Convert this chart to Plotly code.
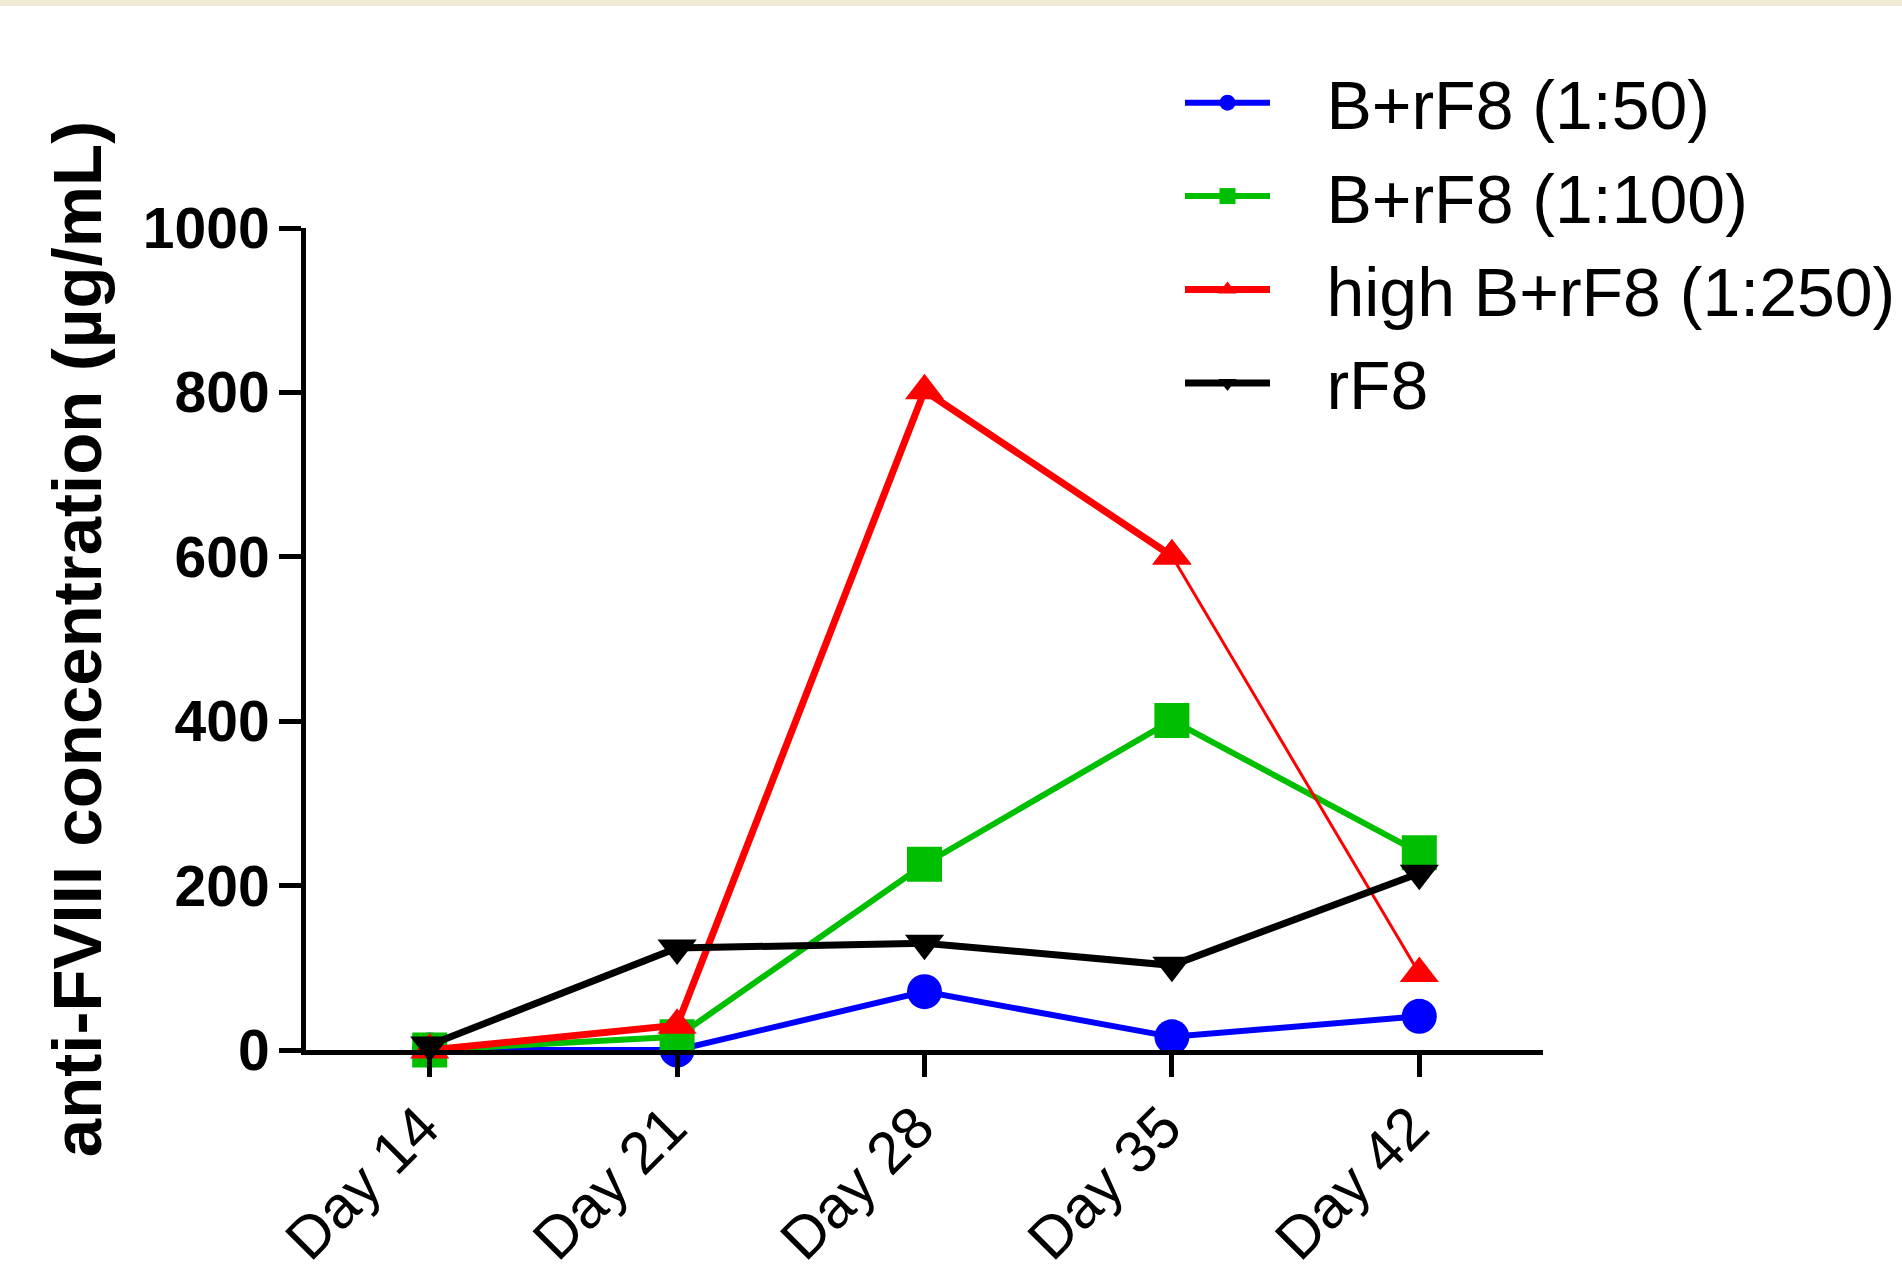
import plotly.graph_objects as go

# ---- data ----
days = ["Day 14", "Day 21", "Day 28", "Day 35", "Day 42"]
y_ticks = [0, 200, 400, 600, 800, 1000]

series_names = ["B+rF8 (1:50)", "B+rF8 (1:100)", "high B+rF8 (1:250)", "rF8"]
b_rf8_1_50 = [0, 0, 71, 16, 41]
b_rf8_1_100 = [0, 16, 226, 401, 240]
high_b_rf8_1_250 = [0, 30, 802, 601, 93]
rf8 = [6, 124, 130, 103, 215]

FONT = "Arial, 'Liberation Sans', sans-serif"
PAD = "\u00a0\u00a0\u2009"  # gap between legend symbol and label


def legend_label(name):
    return PAD + name


fig = go.Figure()

fig.add_trace(go.Scatter(
    x=days, y=b_rf8_1_50, name=legend_label(series_names[0]), mode="lines+markers",
    legendgroup="g1",
    line=dict(color="#0000ff", width=6),
    marker=dict(symbol="circle", size=35, color="#0000ff"),
    cliponaxis=False))

fig.add_trace(go.Scatter(
    x=days, y=b_rf8_1_100, name=legend_label(series_names[1]), mode="lines+markers",
    legendgroup="g2",
    line=dict(color="#00bf00", width=6),
    marker=dict(symbol="square", size=35, color="#00bf00"),
    cliponaxis=False))

# red series: thick up to Day 35, thin last segment
fig.add_trace(go.Scatter(
    x=days[3:], y=high_b_rf8_1_250[3:], name=legend_label(series_names[2]),
    mode="lines+markers", legendgroup="g3",
    line=dict(color="#ff0000", width=3),
    marker=dict(symbol="triangle-up", size=34, color="#ff0000"),
    showlegend=False, cliponaxis=False))
fig.add_trace(go.Scatter(
    x=days[:4], y=high_b_rf8_1_250[:4], name=legend_label(series_names[2]),
    mode="lines+markers", legendgroup="g3",
    line=dict(color="#ff0000", width=7),
    marker=dict(symbol="triangle-up", size=34, color="#ff0000"),
    cliponaxis=False))

fig.add_trace(go.Scatter(
    x=days, y=rf8, name=legend_label(series_names[3]), mode="lines+markers",
    legendgroup="g4",
    line=dict(color="#000000", width=7),
    marker=dict(symbol="triangle-down", size=34, color="#000000"),
    cliponaxis=False))

W, H = 1902, 1279
ml, mr, mt, mb = 306, 359, 228, 229
pw = W - ml - mr
ph = H - mt - mb

fig.update_layout(
    width=W, height=H,
    margin=dict(l=ml, r=mr, t=mt, b=mb, autoexpand=False),
    paper_bgcolor="white", plot_bgcolor="white",
    font=dict(family=FONT, color="black"),
    showlegend=True,
    legend=dict(
        x=(1180 - ml) / pw, y=(H - mb - 52) / ph,
        xanchor="left", yanchor="top",
        font=dict(family=FONT, size=68, color="black"),
        bgcolor="rgba(0,0,0,0)",
        traceorder="grouped", tracegroupgap=2,
        itemwidth=85,
    ),
    xaxis=dict(
        type="category", categoryorder="array", categoryarray=days,
        range=[-0.5, 4.5],
        showline=True, linecolor="black", linewidth=5,
        ticks="outside", ticklen=22, tickwidth=5, tickcolor="black",
        tickangle=-45,
        tickfont=dict(family=FONT, size=59, color="black"),
        ticklabelshift=-8, ticklabelstandoff=-8,
        showgrid=False, zeroline=False,
    ),
    yaxis=dict(
        range=[0, 1000], tickvals=y_ticks,
        showline=True, linecolor="black", linewidth=5,
        ticks="outside", ticklen=22, tickwidth=5, tickcolor="black",
        tickfont=dict(family=FONT, size=57, color="black", weight="bold"),
        ticklabelstandoff=-2,
        showgrid=False, zeroline=False,
        title=dict(text="anti-FVIII concentration (µg/mL)",
                   font=dict(family=FONT, size=69, color="black", weight="bold"),
                   standoff=20),
    ),
    shapes=[dict(type="rect", xref="paper", yref="paper",
                 x0=-ml / pw, x1=(W - ml) / pw,
                 y0=(H - mb - 6) / ph, y1=(H - mb) / ph,
                 fillcolor="#f1ead6", line=dict(width=0), layer="below")],
)

fig.write_html("out.html")
